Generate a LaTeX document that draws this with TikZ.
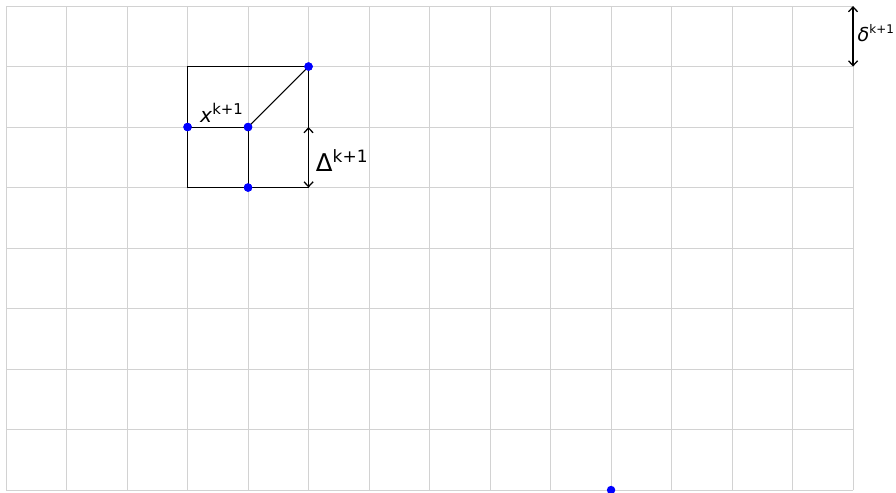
\documentclass[tikz,border=0pt]{standalone}
\usepackage{fontspec}
\newfontfamily\dv{DejaVu Sans}
\usetikzlibrary{arrows.meta}
\begin{document}
\begin{tikzpicture}[x=1cm,y=1cm,
  gridline/.style={draw=gray!35,line width=0.5pt},
  edge/.style={draw=black,line width=0.5pt},
  dot/.style={circle,fill=blue,inner sep=0pt,minimum size=0.14cm},
  dim/.style={draw=black,line width=0.6pt,{Straight Barb[length=0.8mm,width=1.5mm]}-{Straight Barb[length=0.8mm,width=1.5mm]}},
  lab/.style={font=\dv\fontsize{9.5}{10}\selectfont,inner sep=1pt}]
\useasboundingbox (-0.1,-0.033) rectangle (14.71,8.1);
\draw[gridline] (0,0) grid (14,8);
\coordinate (a) at (3,5);
\coordinate (b) at (5,5);
\coordinate (c) at (5,7);
\coordinate (d) at (3,7);
\coordinate (r) at (5,6);
\coordinate (t1) at (14,8);
\coordinate (t2) at (14,7);
\draw[edge] (a) -- (b) -- (c) -- (d) -- cycle;
\node[dot] (p1) at (3,6) {};
\node[dot] (p2) at (4,6) {};
\node[dot] (p3) at (4,5) {};
\node[dot] (p4) at (5,7) {};
\node[dot] (p5) at (10,0) {};
\draw[edge] (p1.center) -- (p2.center) -- (p3.center);
\draw[edge] (p2.center) -- (p4.center);
\node[dot] at (p1) {};
\node[dot] at (p2) {};
\node[dot] at (p3) {};
\node[dot] at (p4) {};
\draw[dim] (r) -- (b);
\draw[dim] (t1) -- (t2);
\node[lab,anchor=south] (xl) at (3.57,6.03) {\textit{x}\textsuperscript{\fontsize{7}{8}\selectfont k+1}};
\node[lab,anchor=west,font=\dv\fontsize{11.5}{12}\selectfont] (Dl) at (5.08,5.45) {Δ\textsuperscript{\fontsize{8}{9}\selectfont k+1}};
\node[lab,anchor=west,inner sep=0pt,font=\dv\fontsize{9}{10}\selectfont] (dl) at (14.07,7.55) {\textit{δ}\textsuperscript{\fontsize{5.6}{7}\selectfont k+1}};
\end{tikzpicture}
\end{document}
